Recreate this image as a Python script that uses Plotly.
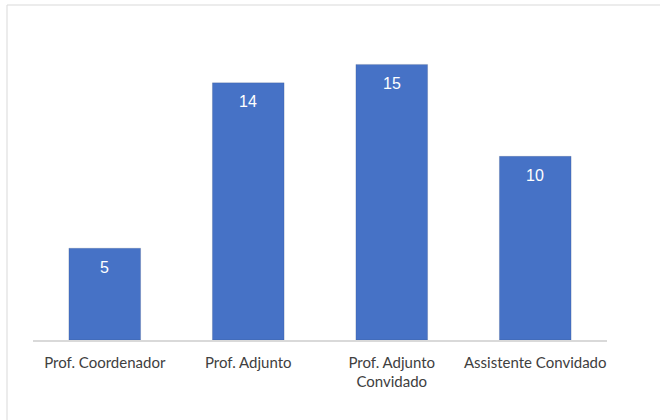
import plotly.graph_objects as go

categories = ["Prof. Coordenador", "Prof. Adjunto", "Prof. Adjunto<br>Convidado", "Assistente Convidado"]
values = [5, 14, 15, 10]
value_labels = [str(v) for v in values]

fig = go.Figure()
fig.add_trace(go.Bar(
    x=categories,
    y=values,
    marker=dict(color="#4672c6", line=dict(color="rgba(0,0,0,0.10)", width=1)),
    hoverinfo="skip",
))

for c, v, t in zip(categories, values, value_labels):
    fig.add_annotation(
        x=c, y=v, text=t, showarrow=False,
        yanchor="middle", yshift=-19,
        font=dict(family="Liberation Sans, Arial, sans-serif", size=16, color="white"),
    )

bx0 = -26 / 574
by1 = 1 + 41 / 294
border = dict(color="#d9d9d9", width=1)

fig.update_layout(
    width=660, height=420,
    margin=dict(l=33, r=53, t=46, b=80),
    paper_bgcolor="white", plot_bgcolor="white",
    bargap=0.5,
    showlegend=False,
    xaxis=dict(
        showline=True, linecolor="#d9d9d9", linewidth=1.5,
        showgrid=False, zeroline=False, ticks="",
        ticklabelstandoff=8,
        tickfont=dict(family="Lato, Carlito, Calibri, sans-serif", size=15, color="#404040"),
        fixedrange=True,
    ),
    yaxis=dict(
        range=[0, 16], visible=False, showgrid=False, zeroline=False, fixedrange=True,
    ),
    shapes=[
        dict(type="line", xref="paper", yref="paper", x0=bx0, x1=1.2, y0=by1, y1=by1,
             line=border, layer="below"),
        dict(type="line", xref="paper", yref="paper", x0=bx0, x1=bx0, y0=-0.5, y1=by1,
             line=border, layer="below"),
    ],
)

fig.write_html(
    "out.html",
    config={"displayModeBar": False},
    post_script="document.body.style.margin='0';document.body.style.overflow='hidden';document.documentElement.style.overflow='hidden';",
)
